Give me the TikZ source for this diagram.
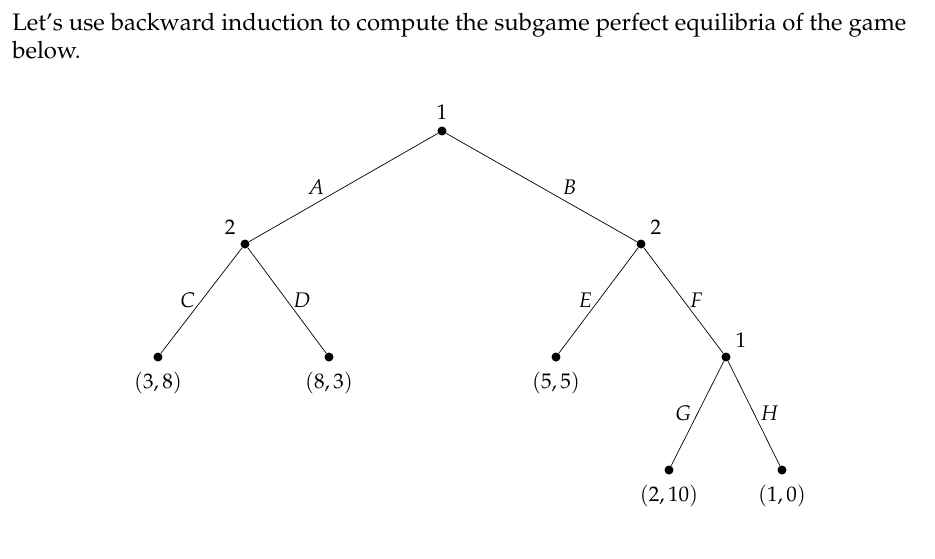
\documentclass[tikz,border=0pt]{standalone}
\usepackage[T1]{fontenc}
\usepackage{mathpazo}
\usepackage{tikz}
\usetikzlibrary{positioning}

\begin{document}
\begin{tikzpicture}[
  font=\fontsize{12}{15.9}\selectfont,
  dec/.style={circle,fill=black,inner sep=0pt,minimum size=0.18cm},
  pay/.style={label={[label distance=2pt]below:#1}},
  edge label/.style={font=\fontsize{12}{14}\selectfont\itshape}
]
\useasboundingbox (-8.84,-8.54) rectangle (9.86,2.62);
% Question text
\node[anchor=north west,inner sep=0pt,align=left,font=\fontsize{13.6}{15.9}\selectfont] (txt) at (-8.6,2.36)
  {Let's use backward induction to compute the subgame perfect equilibria of the game\\below.};
% Level 0: root
\node[dec,label={[label distance=0.5pt]above:1}] (r) at (0,0) {};
% Level 1: player 2 nodes
\node[dec,label={above left:2}] (l2) at (-3.94,-2.26) {};
\node[dec,label={above right:2}] (r2) at (3.98,-2.26) {};
% Level 2: payoffs and player 1 node
\node[dec,pay={$(3,8)$}] (cc) at (-5.68,-4.52) {};
\node[dec,pay={$(8,3)$}] (dd) at (-2.26,-4.52) {};
\node[dec,pay={$(5,5)$}] (ee) at (2.28,-4.52) {};
\node[dec,label={above right:1}] (r1) at (5.68,-4.52) {};
% Level 3: payoffs
\node[dec,pay={$(2,10)$}] (gg) at (4.54,-6.78) {};
\node[dec,pay={$(1,0)$}] (hh) at (6.8,-6.78) {};
% Edges
\draw (r) -- node[edge label,left=0.26cm] {$A$} (l2);
\draw (r) -- node[edge label,right=0.3cm] {$B$} (r2);
\draw (l2) -- node[edge label,left] {$C$} (cc);
\draw (l2) -- node[edge label,right] {$D$} (dd);
\draw (r2) -- node[edge label,left] {$E$} (ee);
\draw (r2) -- node[edge label,right] {$F$} (r1);
\draw (r1) -- node[edge label,left] {$G$} (gg);
\draw (r1) -- node[edge label,right] {$H$} (hh);
\end{tikzpicture}
\end{document}
